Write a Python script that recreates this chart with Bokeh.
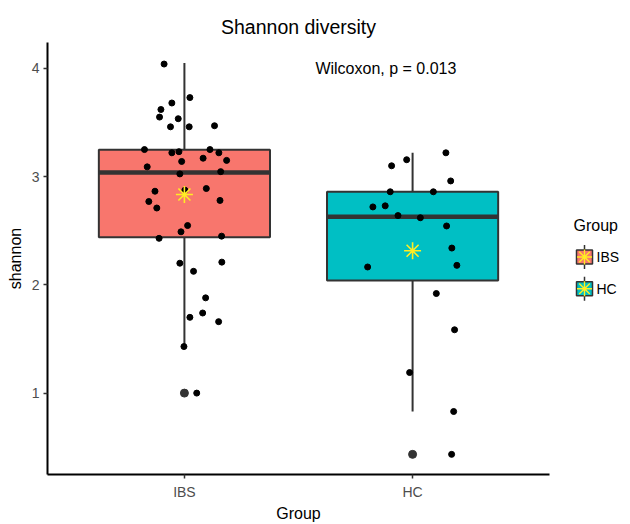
from bokeh.plotting import figure
from bokeh.layouts import row
from bokeh.models import Range1d, FixedTicker, Label
from bokeh.core.properties import value
from bokeh.embed import file_html
from bokeh.resources import INLINE

FONT = "Liberation Sans"

# ---- data ----
groups = ["IBS", "HC"]
colors = ["#F8766D", "#00BFC4"]
q1 = [2.44, 2.04]
median = [3.037, 2.63]
q3 = [3.248, 2.86]
whisker_low = [1.44, 0.83]
whisker_high = [4.05, 3.22]
outlier_vals = [1.0, 0.434]
means = [2.835, 2.315]

ibs_values = [4.04, 3.73, 3.68, 3.62, 3.55, 3.535, 3.46, 3.46, 3.47, 3.25,
              3.22, 3.23, 3.25, 3.22, 3.17, 3.14, 3.15, 3.09, 3.025, 3.046,
              2.865, 2.875, 2.89, 2.77, 2.78, 2.71, 2.548, 2.49, 2.43, 2.45,
              2.20, 2.21, 2.125, 1.88, 1.70, 1.74, 1.66, 1.43, 1.0]
ibs_jitter = [-0.089, 0.024, -0.055, -0.103, -0.109, -0.027, -0.061, 0.021, 0.132, -0.175,
              -0.055, -0.024, 0.112, 0.151, 0.082, -0.012, 0.185, -0.163, -0.020, 0.159,
              -0.129, 0.002, 0.096, -0.156, 0.156, -0.121, 0.014, -0.015, -0.111, 0.163,
              -0.020, 0.164, 0.040, 0.093, 0.024, 0.080, 0.150, -0.002, 0.054]
hc_values = [3.22, 3.156, 3.10, 2.96, 2.86, 2.86, 2.72, 2.73, 2.64, 2.62,
             2.544, 2.34, 2.18, 2.165, 1.92, 1.585, 1.19, 0.83, 0.434]
hc_jitter = [0.146, -0.026, -0.092, 0.167, -0.098, 0.091, -0.174, -0.120, -0.064, 0.034,
             0.149, 0.172, 0.194, -0.197, 0.104, 0.184, -0.013, 0.180, 0.171]

y_ticks = [1, 2, 3, 4]
title_text = "Shannon diversity"
stat_text = "Wilcoxon, p = 0.013"
x_title = "Group"
y_title = "shannon"
legend_title = "Group"

STAR = "#FFEE22"
EDGE = "#333333"
TOP, BOTTOM, LEFT = 42, 47, 47
H = 524

# ---- main figure ----
p = figure(width=560, height=H, output_backend="svg", toolbar_location=None,
           x_range=Range1d(0.4, 2.6), y_range=Range1d(0.248, 4.239),
           min_border_left=LEFT, min_border_right=11, min_border_top=TOP, min_border_bottom=BOTTOM)
p.background_fill_color = "white"
p.border_fill_color = "white"
p.outline_line_color = None
p.grid.visible = False

p.title.text = title_text
p.title.align = "center"
p.title.text_font = FONT
p.title.text_font_size = "19.5px"
p.title.text_font_style = "normal"
p.title.text_color = "black"
p.title.standoff = 10

positions = [i + 1 for i in range(len(groups))]
hw = 0.375

for i, g in enumerate(groups):
    x = positions[i]
    p.segment(x0=[x, x], y0=[q3[i], q1[i]], x1=[x, x], y1=[whisker_high[i], whisker_low[i]],
              line_color=EDGE, line_width=2)
    p.quad(left=[x - hw], right=[x + hw], bottom=[q1[i]], top=[q3[i]],
           fill_color=colors[i], line_color=EDGE, line_width=2)
    p.segment(x0=[x - hw], y0=[median[i]], x1=[x + hw], y1=[median[i]],
              line_color=EDGE, line_width=4.5)
    p.scatter(x=[x], y=[outlier_vals[i]], marker="circle", size=8,
              fill_color=EDGE, line_color=EDGE)

jit_sets = [(ibs_values, ibs_jitter), (hc_values, hc_jitter)]
for i, (vals, jit) in enumerate(jit_sets):
    xs = [positions[i] + j for j in jit]
    p.scatter(x=xs, y=vals, marker="circle", size=6, fill_color="black", line_color="black")

p.scatter(x=positions, y=means, marker="asterisk", size=17, line_color=STAR, line_width=1.6)

for ax in (p.xaxis[0], p.yaxis[0]):
    ax.axis_line_color = "black"
    ax.axis_line_width = 2
    ax.major_tick_line_color = EDGE
    ax.major_tick_line_width = 1.5
    ax.major_tick_out = 4
    ax.major_tick_in = 0
    ax.minor_tick_line_color = None
    ax.major_label_text_font = FONT
    ax.major_label_text_font_size = "14px"
    ax.major_label_text_color = "#4D4D4D"
    ax.axis_label_text_font = FONT
    ax.axis_label_text_font_style = "normal"
    ax.axis_label_text_color = "black"

p.xaxis.ticker = FixedTicker(ticks=positions)
p.xaxis.major_label_overrides = {positions[i]: g for i, g in enumerate(groups)}
p.xaxis.major_label_standoff = 5
p.xaxis.axis_label = x_title
p.xaxis.axis_label_text_font_size = "16px"
p.xaxis.axis_label_standoff = 2

p.yaxis.ticker = FixedTicker(ticks=y_ticks)
p.yaxis.major_label_standoff = 4
p.yaxis.axis_label = y_title
p.yaxis.axis_label_text_font_size = "16px"
p.yaxis.axis_label_standoff = 5

p.add_layout(Label(x=1.574, y=4.0, text=stat_text, text_align="left", text_baseline="alphabetic",
                   text_font=FONT, text_font_size="16px", text_color="black"))

# ---- legend panel: frame aligned with the main frame, coordinates in page pixels ----
LW = 70
lg = figure(width=LW, height=H, output_backend="svg", toolbar_location=None,
            x_range=Range1d(0, LW), y_range=Range1d(H - BOTTOM, TOP),
            min_border_left=0, min_border_right=0, min_border_top=TOP, min_border_bottom=BOTTOM,
            x_axis_type=None, y_axis_type=None)
lg.outline_line_color = None
lg.grid.visible = False
lg.background_fill_color = "white"
lg.border_fill_color = "white"

title_x, title_y = 13, 226
key_x0, key_w, key_h = 16, 16, 14
row_y0, row_step = 258, 32
label_x = 36

lg.text(x=[title_x], y=[title_y], text=[legend_title], text_font=value(FONT),
        text_font_size="16px", text_baseline="middle", text_align="left", text_color="black")
ys = [row_y0 + row_step * i for i in range(len(groups))]
kc = key_x0 + key_w / 2
lg.segment(x0=[kc] * len(ys), y0=[y - 12 for y in ys], x1=[kc] * len(ys), y1=[y + 12 for y in ys],
           line_color=EDGE, line_width=1.5)
lg.quad(left=[key_x0] * len(ys), right=[key_x0 + key_w] * len(ys),
        top=[y - key_h / 2 for y in ys], bottom=[y + key_h / 2 for y in ys],
        fill_color=colors, line_color=EDGE, line_width=1.5)
lg.scatter(x=[kc] * len(ys), y=ys, marker="asterisk", size=15, line_color=STAR, line_width=1.4)
lg.text(x=[label_x] * len(ys), y=ys, text=groups, text_font=value(FONT),
        text_font_size="14px", text_baseline="middle", text_align="left", text_color="black")

layout = row(p, lg)
open("out.html", "w").write(file_html(layout, INLINE))
